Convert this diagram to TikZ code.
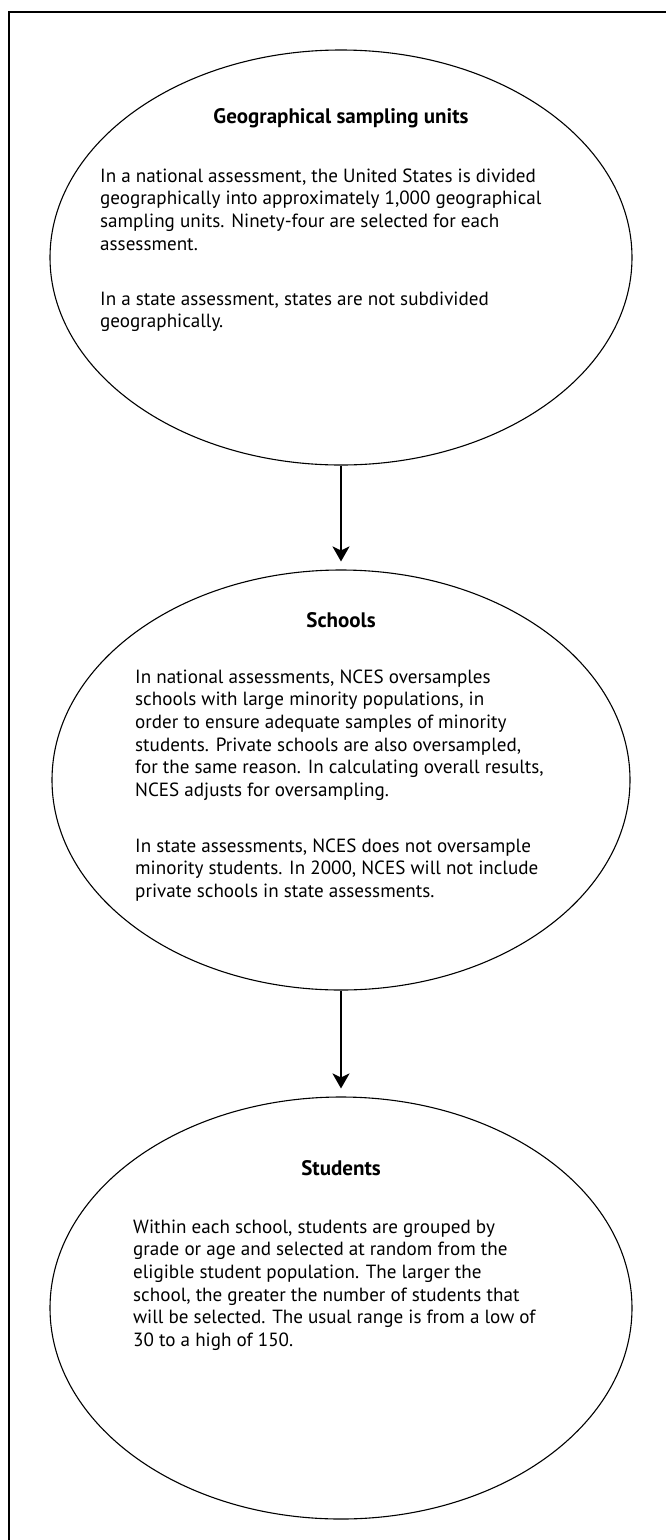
\documentclass[tikz,border=0pt]{standalone}
\usepackage{fontspec}
\setmainfont{PT Sans}
\usetikzlibrary{arrows.meta,shapes.geometric}
\begin{document}
\begin{tikzpicture}[x=1pt,y=-1pt,
  oval/.style={draw,ellipse,line width=1.1pt,inner sep=0pt},
  ttl/.style={font=\fontsize{21}{22.7}\selectfont\bfseries, anchor=base, inner sep=0pt},
  body/.style={anchor=base west, inner sep=0pt},
  link/.style={-{Stealth[length=15pt,width=17pt,inset=4pt]}, line width=2pt, shorten >=8pt},
  frame/.style={line width=1.4pt}
]
\newcommand{\para}[1]{\parbox[t]{520pt}{\fontsize{19.1}{22.7}\selectfont\raggedright #1}}
\useasboundingbox (0,0) rectangle (666,1540);
% frame
\coordinate (tr) at (666,12);
\coordinate (tl) at (9,12);
\coordinate (bl) at (9,1540);
\draw[frame] (tr) -- (tl) -- (bl);
% ellipses
\node[oval, minimum width=582pt, minimum height=415pt] (e1) at (341,257.5) {};
\node[oval, minimum width=578pt, minimum height=420pt] (e2) at (341,780) {};
\node[oval, minimum width=582pt, minimum height=422pt] (e3) at (341,1308) {};
% texts
\node[ttl] (t1) at (341,123) {Geographical sampling units};
\node[body] (p1a) at (100,182) {\para{In a national assessment, the United States is divided\\geographically into approximately 1,000 geographical\\sampling units. Ninety-four are selected for each\\assessment.}};
\node[body] (p1b) at (100,305) {\para{In a state assessment, states are not subdivided\\geographically.}};
\node[ttl] (t2) at (341,627) {Schools};
\node[body] (p2a) at (135,683) {\para{In national assessments, NCES oversamples\\schools with large minority populations, in\\order to ensure adequate samples of minority\\students. Private schools are also oversampled,\\for the same reason. In calculating overall results,\\NCES adjusts for oversampling.}};
\node[body] (p2b) at (135,852) {\para{In state assessments, NCES does not oversample\\minority students. In 2000, NCES will not include\\private schools in state assessments.}};
\node[ttl] (t3) at (341,1175) {Students};
\node[body] (p3) at (133,1233) {\para{Within each school, students are grouped by\\grade or age and selected at random from the\\eligible student population. The larger the\\school, the greater the number of students that\\will be selected. The usual range is from a low of\\30 to a high of 150.}};
% connectors
\draw[link] (e1.south) -- (e2.north);
\draw[link] (e2.south) -- (e3.north);
\end{tikzpicture}
\end{document}
